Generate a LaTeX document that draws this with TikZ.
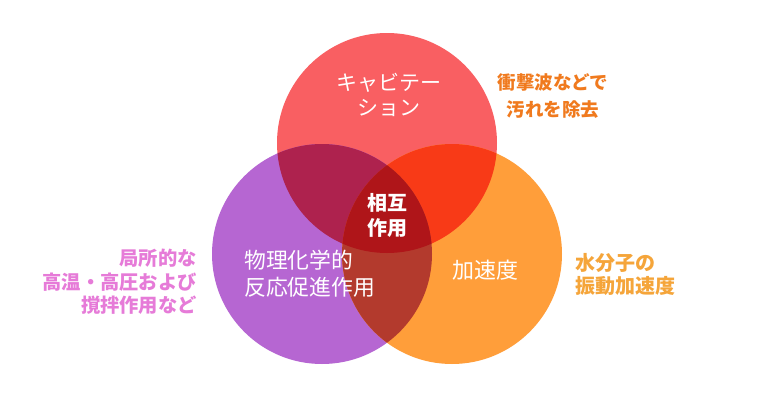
\documentclass[tikz,border=0pt]{standalone}
\usepackage{fontspec}
\setmainfont{Noto Sans CJK JP}
\definecolor{cTop}{HTML}{F95F62}
\definecolor{cLeft}{HTML}{B666D2}
\definecolor{cRight}{HTML}{FF9E3A}
\definecolor{cTL}{HTML}{AE224E}
\definecolor{cTR}{HTML}{F83A17}
\definecolor{cLR}{HTML}{B33A2D}
\definecolor{cAll}{HTML}{AF1519}
\definecolor{tOrange}{HTML}{F07A1E}
\definecolor{tPink}{HTML}{E67BD8}
\definecolor{tYellow}{HTML}{F5A53A}
\begin{document}
\begin{tikzpicture}[x=1pt,y=-1pt,
  intext/.style={text=white,font=\fontsize{21}{25}\selectfont,inner sep=0pt},
  boldtext/.style={text=white,font=\fontsize{20}{25}\selectfont\bfseries,inner sep=0pt,align=center},
  outtext/.style={font=\fontsize{18}{25}\selectfont\bfseries,inner sep=0pt}]
\path[use as bounding box] (0,0) rectangle (774,410);
\fill[white] (0,0) rectangle (774,410);
\def\cT{(387,143) circle[radius=110]}
\def\cL{(322,254) circle[radius=110]}
\def\cR{(452,254) circle[radius=110]}
\fill[cTop] \cT;
\fill[cLeft] \cL;
\fill[cRight] \cR;
\begin{scope}\clip \cT; \fill[cTL] \cL; \fill[cTR] \cR; \end{scope}
\begin{scope}\clip \cL; \fill[cLR] \cR; \end{scope}
\begin{scope}\clip \cT; \clip \cL; \fill[cAll] \cR; \end{scope}
\node[intext,align=center] (cav) at (389,95) {キャビテー\\ション};
\node[boldtext] (mutual) at (387,215) {相互\\作用};
\node[intext,align=left,anchor=west,font=\fontsize{21.8}{27}\selectfont] (phys) at (244,274) {物理化学的\\反応促進作用};
\node[intext,font=\fontsize{22}{25}\selectfont] (acc) at (485,270) {加速度};
\node[outtext,text=tOrange,align=center,font=\fontsize{18.5}{27}\selectfont\bfseries] (shock) at (553,96) {衝撃波などで\\汚れを除去};
\node[outtext,text=tPink,align=right,anchor=east,font=\fontsize{19.3}{23.5}\selectfont\bfseries] (local) at (197,282) {局所的な\\高温・高圧および\\撹拌作用など};
\node[outtext,text=tYellow,align=left,anchor=west,font=\fontsize{20}{23}\selectfont\bfseries] (water) at (575,274) {水分子の\\振動加速度};
\end{tikzpicture}
\end{document}
